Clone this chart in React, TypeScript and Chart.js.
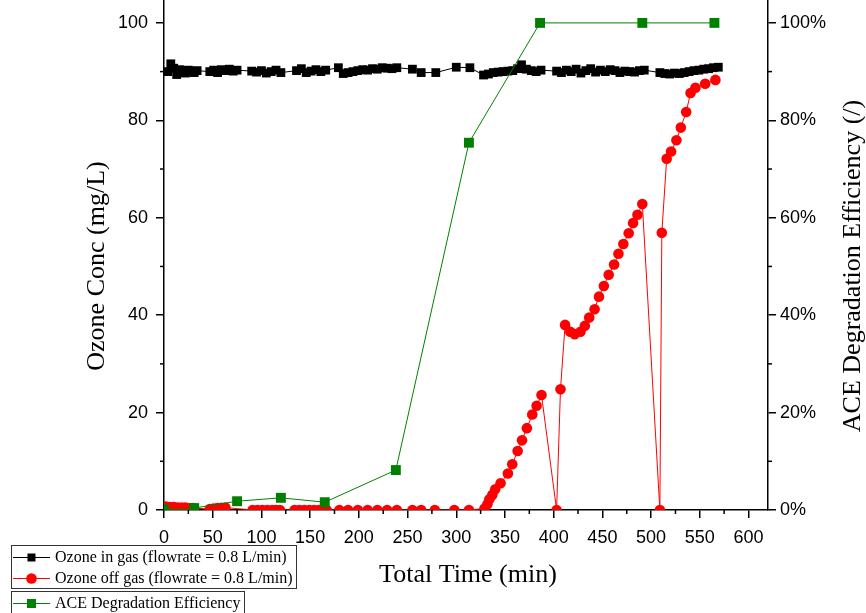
import React, { useEffect, useRef } from "react";
import { Chart, registerables } from "chart.js";

Chart.register(...registerables);

// ---- data ----
const inGasTime = [
  4, 7, 10, 13, 16, 19, 22, 25, 28, 31, 34,
  47, 51, 55, 59, 63, 67, 71, 75,
  90, 95, 100, 105, 110, 115, 120,
  136, 141, 146, 151, 156, 161, 166,
  179, 184, 189, 194, 199, 204, 209, 214, 219, 224, 229, 234, 239,
  255, 264, 279, 300, 314,
  328, 333, 338, 343, 348, 353, 358, 363, 367, 372, 377, 382, 387,
  403, 408, 413, 418, 423, 428, 433, 438, 443, 448, 453, 458, 463, 468, 473, 478, 483, 488, 493,
  509, 514, 519, 524, 529, 534, 539, 544, 549, 554, 559, 564, 569,
];
const inGasConc = [
  90.0, 91.6, 90.7, 89.4, 90.4, 90.0, 89.7, 90.3, 90.1, 89.8, 90.2,
  90.0, 90.3, 89.8, 90.4, 90.2, 90.5, 90.1, 90.3,
  90.1, 89.9, 90.2, 89.7, 90.0, 90.3, 89.8,
  90.2, 90.6, 89.8, 90.1, 90.4, 90.0, 90.3,
  90.8, 89.6, 89.8, 90.0, 90.2, 90.4, 90.3, 90.6, 90.5, 90.8, 90.7, 90.6, 90.8,
  90.5, 89.8, 89.8, 90.9, 90.8,
  89.3, 89.5, 89.8, 89.9, 90.0, 90.1, 90.2, 90.6, 91.4, 90.5, 90.2, 90.0, 90.3,
  90.1, 89.8, 90.3, 90.0, 90.5, 89.7, 90.2, 90.6, 89.9, 90.3, 90.0, 90.4, 90.2, 89.8, 90.1, 90.0, 89.9, 90.2, 90.3,
  89.8, 89.6, 89.5, 89.7, 89.6, 89.8, 90.0, 90.2, 90.3, 90.5, 90.6, 90.8, 90.9,
];

const offGasTime = [
  2, 6, 10, 14, 18, 22, 26, 30,
  47, 51, 55, 59, 63,
  91, 96, 101, 106, 111, 115, 119,
  134, 139, 144, 149, 154, 159, 163, 167,
  180, 189, 199, 209, 219, 229, 239,
  255, 264, 278, 298, 313,
  329, 332, 334, 337, 340, 345.5, 353, 357.5, 363, 367.5, 372.5, 378, 382.5, 387.5,
  403, 407, 411.7, 417, 421.5, 427.5, 432, 436.5, 442, 446.5, 451.5, 456.5, 462, 466.5, 471.5, 477, 481.5, 486, 491,
  509, 511, 516, 520.5, 526, 530.5, 536, 540.5, 545.5, 555.5, 566,
];
const offGasConc = [
  0.7, 0.6, 0.6, 0.5, 0.5, 0.5, 0.4, 0.4,
  0.2, 0.3, 0.4, 0.45, 0.5,
  0, 0, 0, 0, 0, 0, 0,
  0, 0, 0, 0, 0, 0, 0, 0,
  0, 0, 0, 0, 0, 0, 0,
  0, 0, 0, 0, 0,
  0.3, 1.2, 2.2, 3.1, 4.25, 5.5, 7.5, 9.4, 12.1, 14.3, 16.8, 19.6, 21.4, 23.6,
  0, 24.8, 38.0, 36.6, 36.1, 36.6, 37.8, 39.5, 41.2, 43.8, 46.0, 48.3, 50.4, 52.6, 54.6, 56.8, 58.9, 60.6, 62.8,
  0, 56.9, 72.1, 73.6, 75.9, 78.5, 81.7, 85.6, 86.7, 87.5, 88.3,
];

const effTime = [0, 31, 75, 120, 165, 238, 313, 386, 491, 565];
const effPct = [0.1, 0.4, 1.8, 2.5, 1.6, 8.2, 75.4, 100, 100, 100];

const seriesLabels = [
  "Ozone in gas (flowrate = 0.8 L/min)",
  "Ozone off gas (flowrate = 0.8 L/min)",
  "ACE Degradation Efficiency",
];
const xTitle = "Total Time (min)";
const yTitle = "Ozone Conc (mg/L)";
const y2Title = "ACE Degradation Efficiency (/)";

const BLACK = "#000000";
const RED = "#FF0000";
const GREEN = "#008000";
const SERIF = '"Liberation Serif", "Times New Roman", serif';
const SANS = '"Liberation Sans", Arial, sans-serif';

const toPts = (xs: number[], ys: number[]) => xs.map((x, i) => ({ x, y: ys[i] }));

const decorPlugin = {
  id: "decor",
  afterDraw(chart: any) {
    const { ctx } = chart;
    const xs = chart.scales.x;
    const ys = chart.scales.y;
    const y2s = chart.scales.y2;
    ctx.save();
    ctx.strokeStyle = "#000";
    ctx.lineWidth = 1.5;
    const seg = (x1: number, y1: number, x2: number, y2: number) => {
      ctx.beginPath();
      ctx.moveTo(x1, y1);
      ctx.lineTo(x2, y2);
      ctx.stroke();
    };
    // minor ticks
    for (let v = 25; v < xs.max; v += 50) {
      const px = xs.getPixelForValue(v);
      seg(px, xs.top, px, xs.top + 4);
    }
    for (let v = 10; v < ys.max; v += 20) {
      const py = ys.getPixelForValue(v);
      seg(ys.right - 4, py, ys.right, py);
      const py2 = y2s.getPixelForValue(v);
      seg(y2s.left, py2, y2s.left + 4, py2);
    }

    // axis titles
    ctx.fillStyle = "#000";
    ctx.textAlign = "center";
    ctx.textBaseline = "middle";
    ctx.font = `26px ${SERIF}`;
    ctx.fillText(xTitle, 468, 575);
    ctx.save();
    ctx.translate(97, 266);
    ctx.rotate(-Math.PI / 2);
    ctx.fillText(yTitle, 0, 0);
    ctx.restore();
    ctx.save();
    ctx.translate(853, 266);
    ctx.rotate(-Math.PI / 2);
    ctx.fillText(y2Title, 0, 0);
    ctx.restore();

    // legend boxes
    ctx.lineWidth = 1;
    ctx.strokeStyle = "#333";
    ctx.strokeRect(11.5, 545.5, 285, 43);
    ctx.strokeRect(11.5, 591.5, 233, 30);

    const items = [
      { y: 557, color: BLACK, shape: "rect", size: 8 },
      { y: 578, color: RED, shape: "circle", size: 5.3 },
      { y: 603, color: GREEN, shape: "rect", size: 9 },
    ];
    ctx.font = `16px ${SERIF}`;
    ctx.textAlign = "left";
    items.forEach((it, i) => {
      ctx.strokeStyle = it.color;
      ctx.lineWidth = 1;
      seg(13, it.y + 0.5, 50, it.y + 0.5);
      ctx.fillStyle = it.color;
      if (it.shape === "rect") {
        ctx.fillRect(31.5 - it.size / 2, it.y + 0.5 - it.size / 2, it.size, it.size);
      } else {
        ctx.beginPath();
        ctx.arc(31.5, it.y + 0.5, it.size, 0, Math.PI * 2);
        ctx.fill();
      }
      ctx.fillStyle = "#000";
      ctx.fillText(seriesLabels[i], 55, it.y + 1);
    });
    ctx.restore();
  },
};

export default function App() {
  const ref = useRef<HTMLCanvasElement | null>(null);

  useEffect(() => {
    if (!ref.current) return;
    const fixPad = (s: any) => {
      s.paddingTop = 0;
      s.paddingBottom = 0;
      s.paddingLeft = 0;
      s.paddingRight = 0;
    };
    const tickFont = { family: SANS, size: 18 };
    const chart = new Chart(ref.current, {
      type: "scatter",
      data: {
        datasets: [
          {
            label: seriesLabels[2],
            data: toPts(effTime, effPct),
            yAxisID: "y2",
            showLine: true,
            borderColor: GREEN,
            backgroundColor: GREEN,
            borderWidth: 1,
            pointStyle: "rect",
            pointRadius: 7,
            pointBorderWidth: 0,
            order: 0,
            clip: 0,
          } as any,
          {
            label: seriesLabels[1],
            data: toPts(offGasTime, offGasConc),
            yAxisID: "y",
            showLine: true,
            borderColor: RED,
            backgroundColor: RED,
            borderWidth: 1,
            pointStyle: "circle",
            pointRadius: 5.3,
            pointBorderWidth: 0,
            order: 1,
            clip: 0,
          },
          {
            label: seriesLabels[0],
            data: toPts(inGasTime, inGasConc),
            yAxisID: "y",
            showLine: true,
            borderColor: BLACK,
            backgroundColor: BLACK,
            borderWidth: 1,
            pointStyle: "rect",
            pointRadius: 6.2,
            pointBorderWidth: 0,
            order: 2,
            clip: 0,
          },
        ],
      },
      options: {
        responsive: false,
        animation: false,
        events: [],
        layout: { padding: 0, autoPadding: false },
        plugins: {
          legend: { display: false },
          tooltip: { enabled: false },
          title: { display: false },
        },
        scales: {
          x: {
            type: "linear",
            position: "bottom",
            min: 0,
            max: 620,
            ticks: { stepSize: 50, includeBounds: false, color: "#000", font: tickFont, padding: 9, maxRotation: 0 },
            grid: { drawOnChartArea: false, drawTicks: true, tickLength: 8, color: "#000", lineWidth: 1.5 },
            border: { display: true, color: "#000", width: 1.5 },
            afterFit: (s: any) => {
              s.height = 103;
              fixPad(s);
            },
          },
          y: {
            type: "linear",
            position: "left",
            min: 0,
            max: 104.7,
            ticks: { stepSize: 20, includeBounds: false, color: "#000", font: tickFont, padding: 8 },
            grid: { drawOnChartArea: false, drawTicks: true, tickLength: 8, color: "#000", lineWidth: 1.5 },
            border: { display: true, color: "#000", width: 1.5 },
            afterFit: (s: any) => {
              s.width = 164;
              fixPad(s);
            },
          },
          y2: {
            type: "linear",
            position: "right",
            min: 0,
            max: 104.7,
            ticks: {
              stepSize: 20,
              includeBounds: false,
              color: "#000",
              font: tickFont,
              padding: 4,
              callback: (v: any) => `${v}%`,
            },
            grid: { drawOnChartArea: false, drawTicks: true, tickLength: 8, color: "#000", lineWidth: 1.5 },
            border: { display: true, color: "#000", width: 1.5 },
            afterFit: (s: any) => {
              s.width = 98;
              fixPad(s);
            },
          },
        },
      },
      plugins: [decorPlugin],
    });
    return () => chart.destroy();
  }, []);

  return (
    <div style={{ position: "fixed", left: 0, top: 0, width: 866, height: 613, background: "#fff" }}>
      <canvas ref={ref} width={866} height={613} style={{ display: "block" }} />
    </div>
  );
}
